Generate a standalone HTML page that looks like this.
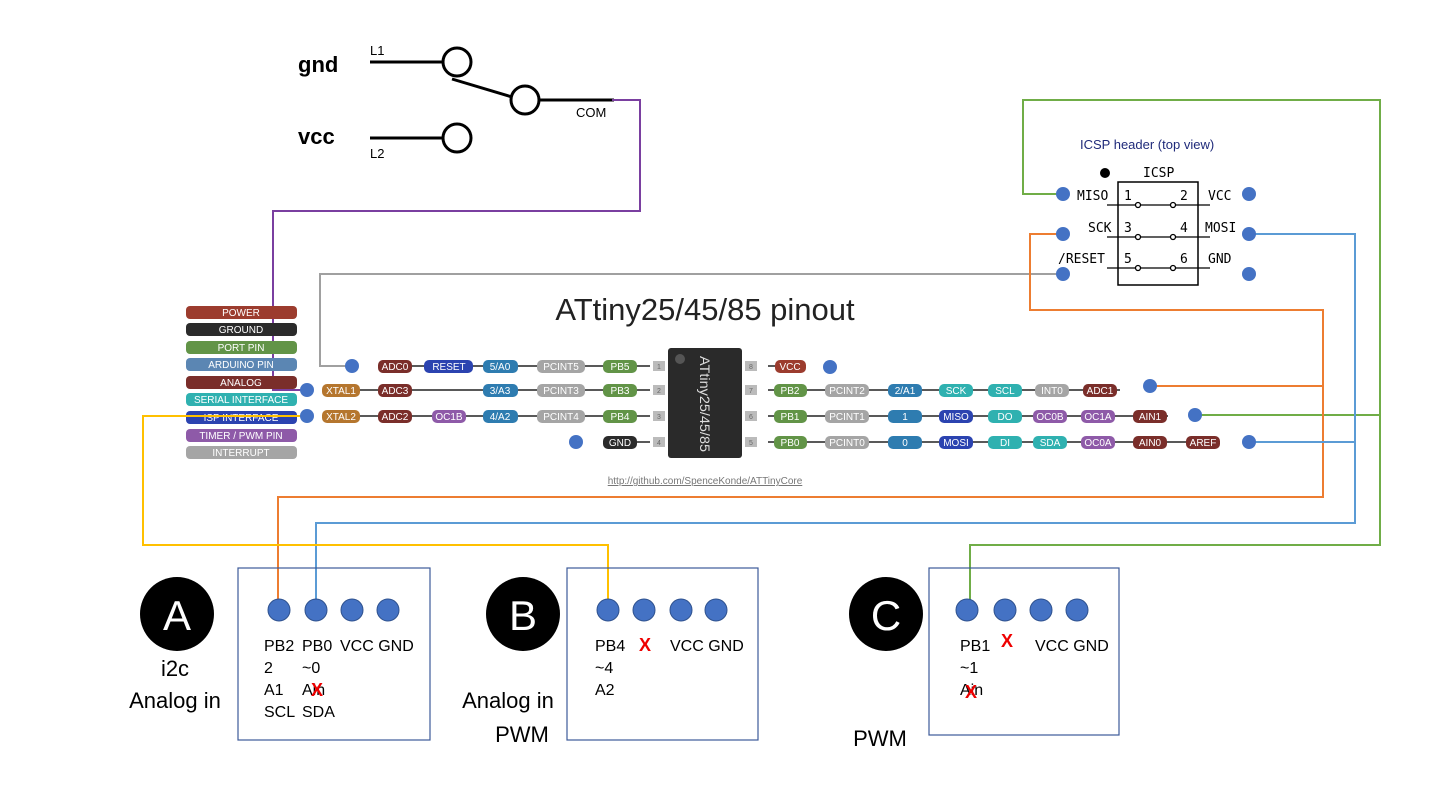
<!DOCTYPE html>
<html><head><meta charset="utf-8"><style>
body{margin:0;background:#fff}
svg{display:block}
text{font-family:"Liberation Sans",sans-serif}
.m{font-family:"DejaVu Sans Mono","Liberation Mono",monospace;font-size:13px;fill:#000}
.p{font-size:10px;fill:#fff;text-anchor:middle}
.b{font-size:16px;fill:#000}
</style></head><body>
<svg width="1440" height="810" viewBox="0 0 1440 810" xmlns="http://www.w3.org/2000/svg">
<g stroke="#000" stroke-width="3" fill="none">
<line x1="370" y1="62" x2="443" y2="62"/><circle cx="457" cy="62" r="14" fill="#fff"/>
<line x1="452" y1="79" x2="512" y2="97"/><circle cx="525" cy="100" r="14" fill="#fff"/>
<line x1="539" y1="100" x2="614" y2="100"/>
<line x1="370" y1="138" x2="443" y2="138"/><circle cx="457" cy="138" r="14" fill="#fff"/>
</g>
<text x="298" y="72" font-size="22" font-weight="bold">gnd</text>
<text x="298" y="144" font-size="22" font-weight="bold">vcc</text>
<text x="370" y="55" font-size="13">L1</text>
<text x="370" y="158" font-size="13">L2</text>
<text x="576" y="117" font-size="13">COM</text>
<g fill="none" stroke-width="2">
<polyline points="612,100 640,100 640,211 273,211 273,390 307,390" stroke="#7a3fa0"/>
<polyline points="352,366 320,366 320,274 1063,274" stroke="#a0a0a0"/>
<polyline points="1063,194 1023,194 1023,100 1380,100 1380,545 970,545 970,610" stroke="#70ad47"/>
<polyline points="1195,415 1380,415" stroke="#70ad47"/>
<polyline points="1063,234 1030,234 1030,310 1323,310 1323,497 278,497 278,610" stroke="#ed7d31"/>
<polyline points="1150,386 1323,386" stroke="#ed7d31"/>
<polyline points="1249,234 1355,234 1355,523 316,523 316,610" stroke="#5b9bd5"/>
<polyline points="1249,442 1355,442" stroke="#5b9bd5"/>
<polyline points="307,416 143,416 143,545 608,545 608,610" stroke="#ffc000"/>
</g>
<text x="1080" y="149" font-size="13" fill="#1f2a7a" font-family="DejaVu Sans,sans-serif">ICSP header (top view)</text>
<circle cx="1105" cy="173" r="5" fill="#000"/>
<text x="1143" y="177" class="m">ICSP</text>
<rect x="1118" y="182" width="80" height="103" fill="none" stroke="#000" stroke-width="1.5"/>
<g stroke="#000" stroke-width="1.3" fill="#fff">
<line x1="1107" y1="205" x2="1210" y2="205"/><line x1="1107" y1="237" x2="1210" y2="237"/><line x1="1107" y1="268" x2="1210" y2="268"/>
<circle cx="1138" cy="205" r="2.5"/><circle cx="1173" cy="205" r="2.5"/>
<circle cx="1138" cy="237" r="2.5"/><circle cx="1173" cy="237" r="2.5"/>
<circle cx="1138" cy="268" r="2.5"/><circle cx="1173" cy="268" r="2.5"/>
</g>
<text x="1077" y="200" class="m">MISO</text><text x="1124" y="200" class="m">1</text><text x="1180" y="200" class="m">2</text><text x="1208" y="200" class="m">VCC</text>
<text x="1088" y="232" class="m">SCK</text><text x="1124" y="232" class="m">3</text><text x="1180" y="232" class="m">4</text><text x="1205" y="232" class="m">MOSI</text>
<text x="1058" y="263" class="m">/RESET</text><text x="1124" y="263" class="m">5</text><text x="1180" y="263" class="m">6</text><text x="1208" y="263" class="m">GND</text>
<g fill="#4472c4">
<circle cx="1063" cy="194" r="7"/><circle cx="1063" cy="234" r="7"/><circle cx="1063" cy="274" r="7"/>
<circle cx="1249" cy="194" r="7"/><circle cx="1249" cy="234" r="7"/><circle cx="1249" cy="274" r="7"/>
</g>
<g>
<rect x="186" y="306" width="111" height="13" rx="4" fill="#9c3c2e"/><text x="241" y="316" class="p">POWER</text>
<rect x="186" y="323" width="111" height="13" rx="4" fill="#2b2b2b"/><text x="241" y="333" class="p">GROUND</text>
<rect x="186" y="341" width="111" height="13" rx="4" fill="#629447"/><text x="241" y="351" class="p">PORT PIN</text>
<rect x="186" y="358" width="111" height="13" rx="4" fill="#5b86b3"/><text x="241" y="368" class="p">ARDUINO PIN</text>
<rect x="186" y="376" width="111" height="13" rx="4" fill="#7a2e2a"/><text x="241" y="386" class="p">ANALOG</text>
<rect x="186" y="393" width="111" height="13" rx="4" fill="#2fb1b0"/><text x="241" y="403" class="p">SERIAL INTERFACE</text>
<rect x="186" y="411" width="111" height="13" rx="4" fill="#2b43b0"/><text x="241" y="421" class="p">ISP INTERFACE</text>
<rect x="186" y="429" width="111" height="13" rx="4" fill="#8e5aa8"/><text x="241" y="439" class="p">TIMER / PWM PIN</text>
<rect x="186" y="446" width="111" height="13" rx="4" fill="#a5a5a5"/><text x="241" y="456" class="p">INTERRUPT</text>
</g>
<line x1="143" y1="416" x2="297" y2="416" stroke="#ffc000" stroke-width="2"/>
<text x="705" y="320" font-size="31" text-anchor="middle" fill="#222">ATtiny25/45/85 pinout</text>
<g stroke="#222" stroke-width="1.5">
<line x1="378" y1="366" x2="650" y2="366"/><line x1="322" y1="390" x2="650" y2="390"/><line x1="322" y1="416" x2="650" y2="416"/><line x1="603" y1="442" x2="650" y2="442"/>
<line x1="768" y1="366" x2="806" y2="366"/><line x1="768" y1="390" x2="1120" y2="390"/><line x1="768" y1="416" x2="1168" y2="416"/><line x1="768" y1="442" x2="1220" y2="442"/>
</g>
<g fill="#bbb">
<rect x="653" y="361" width="12" height="10"/><rect x="653" y="385" width="12" height="10"/><rect x="653" y="411" width="12" height="10"/><rect x="653" y="437" width="12" height="10"/>
<rect x="745" y="361" width="12" height="10"/><rect x="745" y="385" width="12" height="10"/><rect x="745" y="411" width="12" height="10"/><rect x="745" y="437" width="12" height="10"/>
</g>
<g font-size="7" fill="#666" text-anchor="middle">
<text x="659" y="369">1</text><text x="659" y="393">2</text><text x="659" y="419">3</text><text x="659" y="445">4</text>
<text x="751" y="369">8</text><text x="751" y="393">7</text><text x="751" y="419">6</text><text x="751" y="445">5</text>
</g>
<rect x="668" y="348" width="74" height="110" rx="3" fill="#2a2a2a"/>
<circle cx="680" cy="359" r="5" fill="#555"/>
<text transform="translate(700,356) rotate(90)" font-size="14" fill="#ddd" textLength="96" lengthAdjust="spacingAndGlyphs">ATtiny25/45/85</text>
<g>
<rect x="378" y="360" width="34" height="13" rx="5" fill="#7a2e2a"/><text x="395" y="370" class="p">ADC0</text>
<rect x="424" y="360" width="49" height="13" rx="5" fill="#2b43b0"/><text x="449" y="370" class="p">RESET</text>
<rect x="483" y="360" width="35" height="13" rx="5" fill="#2e7cb0"/><text x="500" y="370" class="p">5/A0</text>
<rect x="537" y="360" width="48" height="13" rx="5" fill="#a5a5a5"/><text x="561" y="370" class="p">PCINT5</text>
<rect x="603" y="360" width="34" height="13" rx="5" fill="#629447"/><text x="620" y="370" class="p">PB5</text>
<rect x="322" y="384" width="38" height="13" rx="5" fill="#b5762e"/><text x="341" y="394" class="p">XTAL1</text>
<rect x="378" y="384" width="34" height="13" rx="5" fill="#7a2e2a"/><text x="395" y="394" class="p">ADC3</text>
<rect x="483" y="384" width="35" height="13" rx="5" fill="#2e7cb0"/><text x="500" y="394" class="p">3/A3</text>
<rect x="537" y="384" width="48" height="13" rx="5" fill="#a5a5a5"/><text x="561" y="394" class="p">PCINT3</text>
<rect x="603" y="384" width="34" height="13" rx="5" fill="#629447"/><text x="620" y="394" class="p">PB3</text>
<rect x="322" y="410" width="38" height="13" rx="5" fill="#b5762e"/><text x="341" y="420" class="p">XTAL2</text>
<rect x="378" y="410" width="34" height="13" rx="5" fill="#7a2e2a"/><text x="395" y="420" class="p">ADC2</text>
<rect x="432" y="410" width="34" height="13" rx="5" fill="#8e5aa8"/><text x="449" y="420" class="p">OC1B</text>
<rect x="483" y="410" width="35" height="13" rx="5" fill="#2e7cb0"/><text x="500" y="420" class="p">4/A2</text>
<rect x="537" y="410" width="48" height="13" rx="5" fill="#a5a5a5"/><text x="561" y="420" class="p">PCINT4</text>
<rect x="603" y="410" width="34" height="13" rx="5" fill="#629447"/><text x="620" y="420" class="p">PB4</text>
<rect x="603" y="436" width="34" height="13" rx="5" fill="#2b2b2b"/><text x="620" y="446" class="p">GND</text>
<rect x="775" y="360" width="31" height="13" rx="5" fill="#9c3c2e"/><text x="790" y="370" class="p">VCC</text>
<rect x="774" y="384" width="33" height="13" rx="5" fill="#629447"/><text x="790" y="394" class="p">PB2</text>
<rect x="825" y="384" width="44" height="13" rx="5" fill="#a5a5a5"/><text x="847" y="394" class="p">PCINT2</text>
<rect x="888" y="384" width="34" height="13" rx="5" fill="#2e7cb0"/><text x="905" y="394" class="p">2/A1</text>
<rect x="939" y="384" width="34" height="13" rx="5" fill="#2fb1b0"/><text x="956" y="394" class="p">SCK</text>
<rect x="988" y="384" width="34" height="13" rx="5" fill="#2fb1b0"/><text x="1005" y="394" class="p">SCL</text>
<rect x="1035" y="384" width="34" height="13" rx="5" fill="#a5a5a5"/><text x="1052" y="394" class="p">INT0</text>
<rect x="1083" y="384" width="34" height="13" rx="5" fill="#7a2e2a"/><text x="1100" y="394" class="p">ADC1</text>
<rect x="774" y="410" width="33" height="13" rx="5" fill="#629447"/><text x="790" y="420" class="p">PB1</text>
<rect x="825" y="410" width="44" height="13" rx="5" fill="#a5a5a5"/><text x="847" y="420" class="p">PCINT1</text>
<rect x="888" y="410" width="34" height="13" rx="5" fill="#2e7cb0"/><text x="905" y="420" class="p">1</text>
<rect x="939" y="410" width="34" height="13" rx="5" fill="#2b43b0"/><text x="956" y="420" class="p">MISO</text>
<rect x="988" y="410" width="34" height="13" rx="5" fill="#2fb1b0"/><text x="1005" y="420" class="p">DO</text>
<rect x="1033" y="410" width="34" height="13" rx="5" fill="#8e5aa8"/><text x="1050" y="420" class="p">OC0B</text>
<rect x="1081" y="410" width="34" height="13" rx="5" fill="#8e5aa8"/><text x="1098" y="420" class="p">OC1A</text>
<rect x="1133" y="410" width="34" height="13" rx="5" fill="#7a2e2a"/><text x="1150" y="420" class="p">AIN1</text>
<rect x="774" y="436" width="33" height="13" rx="5" fill="#629447"/><text x="790" y="446" class="p">PB0</text>
<rect x="825" y="436" width="44" height="13" rx="5" fill="#a5a5a5"/><text x="847" y="446" class="p">PCINT0</text>
<rect x="888" y="436" width="34" height="13" rx="5" fill="#2e7cb0"/><text x="905" y="446" class="p">0</text>
<rect x="939" y="436" width="34" height="13" rx="5" fill="#2b43b0"/><text x="956" y="446" class="p">MOSI</text>
<rect x="988" y="436" width="34" height="13" rx="5" fill="#2fb1b0"/><text x="1005" y="446" class="p">DI</text>
<rect x="1033" y="436" width="34" height="13" rx="5" fill="#2fb1b0"/><text x="1050" y="446" class="p">SDA</text>
<rect x="1081" y="436" width="34" height="13" rx="5" fill="#8e5aa8"/><text x="1098" y="446" class="p">OC0A</text>
<rect x="1133" y="436" width="34" height="13" rx="5" fill="#7a2e2a"/><text x="1150" y="446" class="p">AIN0</text>
<rect x="1186" y="436" width="34" height="13" rx="5" fill="#7a2e2a"/><text x="1203" y="446" class="p">AREF</text>
</g>
<g fill="#4472c4">
<circle cx="352" cy="366" r="7"/><circle cx="307" cy="390" r="7"/><circle cx="307" cy="416" r="7"/><circle cx="576" cy="442" r="7"/>
<circle cx="830" cy="367" r="7"/><circle cx="1150" cy="386" r="7"/><circle cx="1195" cy="415" r="7"/><circle cx="1249" cy="442" r="7"/>
</g>
<text x="705" y="484" font-size="10" fill="#777" text-anchor="middle" text-decoration="underline">http://github.com/SpenceKonde/ATTinyCore</text>
<g fill="none" stroke="#3d5a99" stroke-width="1.2">
<rect x="238" y="568" width="192" height="172"/><rect x="567" y="568" width="191" height="172"/><rect x="929" y="568" width="190" height="167"/>
</g>
<g fill="#4472c4" stroke="#2f528f" stroke-width="1">
<circle cx="279" cy="610" r="11"/><circle cx="316" cy="610" r="11"/><circle cx="352" cy="610" r="11"/><circle cx="388" cy="610" r="11"/>
<circle cx="608" cy="610" r="11"/><circle cx="644" cy="610" r="11"/><circle cx="681" cy="610" r="11"/><circle cx="716" cy="610" r="11"/>
<circle cx="967" cy="610" r="11"/><circle cx="1005" cy="610" r="11"/><circle cx="1041" cy="610" r="11"/><circle cx="1077" cy="610" r="11"/>
</g>
<g>
<text x="264" y="651" class="b">PB2</text><text x="264" y="673" class="b">2</text><text x="264" y="695" class="b">A1</text><text x="264" y="717" class="b">SCL</text>
<text x="302" y="651" class="b">PB0</text><text x="302" y="673" class="b">~0</text><text x="302" y="695" class="b">Ain</text><text x="302" y="717" class="b">SDA</text>
<text x="340" y="651" class="b">VCC GND</text>
<text x="595" y="651" class="b">PB4</text><text x="595" y="673" class="b">~4</text><text x="595" y="695" class="b">A2</text>
<text x="670" y="651" class="b">VCC GND</text>
<text x="960" y="651" class="b">PB1</text><text x="960" y="673" class="b">~1</text><text x="960" y="695" class="b">Ain</text>
<text x="1035" y="651" class="b">VCC GND</text>
</g>
<g fill="#e00" font-size="18" font-weight="bold" text-anchor="middle">
<text x="317" y="696">X</text><text x="645" y="651">X</text><text x="1007" y="647">X</text><text x="971" y="698">X</text>
</g>
<g>
<circle cx="177" cy="614" r="37" fill="#000"/><text x="177" y="630" fill="#fff" font-size="42" text-anchor="middle">A</text>
<circle cx="523" cy="614" r="37" fill="#000"/><text x="523" y="630" fill="#fff" font-size="42" text-anchor="middle">B</text>
<circle cx="886" cy="614" r="37" fill="#000"/><text x="886" y="630" fill="#fff" font-size="42" text-anchor="middle">C</text>
</g>
<g font-size="22" text-anchor="middle">
<text x="175" y="676">i2c</text><text x="175" y="708">Analog in</text>
<text x="508" y="708">Analog in</text><text x="522" y="742">PWM</text>
<text x="880" y="746">PWM</text>
</g>
</svg>
</body></html>
